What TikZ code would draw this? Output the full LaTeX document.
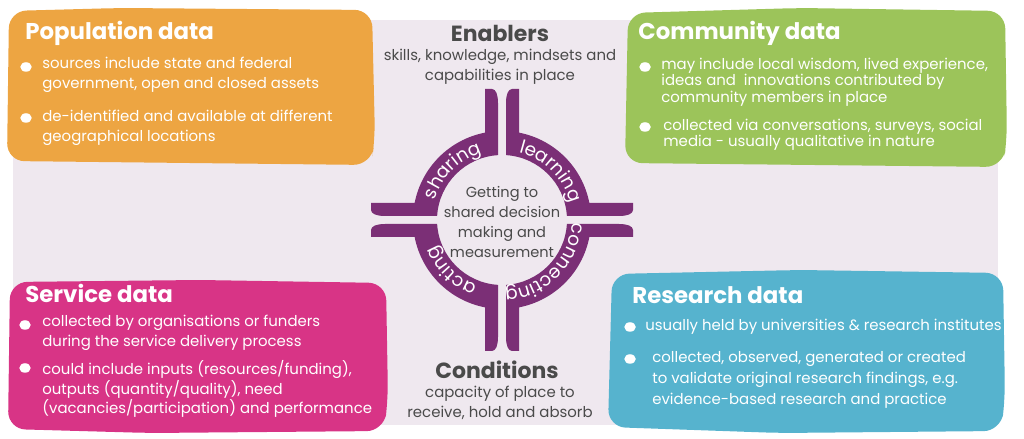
\documentclass[tikz,border=0pt]{standalone}
\usepackage{fontspec}
\setmainfont{Poppins}
\usetikzlibrary{decorations.text, shapes.geometric}

\definecolor{lavender}{HTML}{EFE8EF}
\definecolor{popfill}{HTML}{EDA542}
\definecolor{comfill}{HTML}{9CC45A}
\definecolor{serfill}{HTML}{D83486}
\definecolor{resfill}{HTML}{56B3CE}
\definecolor{ringcol}{HTML}{7B2F76}
\definecolor{darktext}{HTML}{4A4A4A}

\newcommand{\headfont}{\fontsize{13}{15}\selectfont\bfseries}
\newcommand{\bodyfont}{\fontsize{8.5}{11.3}\selectfont}
\newcommand{\ringfont}{\fontsize{10.5}{11}\selectfont\color{white}}

\tikzset{
	head/.style={anchor=west, inner sep=0, text=white, font=\headfont},
	body/.style={anchor=west, inner sep=0, text=white, align=left, font=\bodyfont},
	dot/.style={ellipse, fill=white, inner sep=0, minimum width=0.23cm, minimum height=0.19cm},
	ringlabel/.style={decorate, decoration={text along path, text align=center, text={|\ringfont|#1}}}
}

\begin{document}
\begin{tikzpicture}[x=0.02cm, y=0.02cm]
	\useasboundingbox (0,0) rectangle (1024,439);
	\fill[lavender] (13,14) rectangle (998,419);

	% data boxes
	\fill[popfill, rounded corners=0.35cm] (7,278) -- (9,428) -- (120,431) -- (372,429) -- (375,300) -- (371,274) -- cycle;
	\fill[comfill, rounded corners=0.35cm] (625,276) -- (628,426) -- (800,431) -- (1005,428) -- (1007,300) -- (1003,272) -- cycle;
	\fill[serfill, rounded corners=0.35cm] (8,10) -- (10,157) -- (200,159) -- (386,156) -- (388,40) -- (384,8) -- (150,6) -- cycle;
	\fill[resfill, rounded corners=0.35cm] (608,12) -- (612,165) -- (800,169) -- (1003,166) -- (1005,40) -- (1001,8) -- (780,6) -- cycle;

	% ring
	\begin{scope}[shift={(502,219)}]
		\foreach \r in {0,90,180,270}
		\fill[ringcol, rotate=\r] (-4,64.88) -- (-4,117) .. controls (-4,125) and (-6,131) .. (-10,131) -- (-17,131) -- (-17,87.36)
			arc[start angle=101.01, end angle=168.99, radius=89] -- (-131,17) -- (-131,10) .. controls (-131,6) and (-125,4) .. (-117,4) -- (-64.88,4)
			arc[start angle=176.47, end angle=93.53, radius=65] -- cycle;
		\path[ringlabel=sharing] (172:70) arc[start angle=172, end angle=98, radius=70];
		\path[ringlabel=learning] (82:70) arc[start angle=82, end angle=8, radius=70];
		\path[ringlabel=connecting] (-6:70) arc[start angle=-6, end angle=-84, radius=70];
		\path[ringlabel=acting] (-98:70) arc[start angle=-98, end angle=-172, radius=70];
	\end{scope}
	\node[align=center, inner sep=0, text=darktext, font=\fontsize{8.3}{11.3}\selectfont] (centre) at (502,217) {Getting to\\shared decision\\making and\\measurement};

	\node[inner sep=0, text=darktext, font=\fontsize{12.5}{14}\selectfont\bfseries] (enablers) at (500,406) {Enablers};
	\node[inner sep=0, align=center, text=darktext, font=\bodyfont] (enablerstext) at (500,372) {skills, knowledge, mindsets and\\capabilities in place};
	\node[inner sep=0, text=darktext, font=\fontsize{12.5}{14}\selectfont\bfseries] (conditions) at (497,69) {Conditions};
	\node[inner sep=0, align=center, text=darktext, font=\bodyfont] (conditionstext) at (500,36) {capacity of place to\\receive, hold and absorb};

	% population
	\node[head] (pophead) at (25,406) {Population data};
	\node[dot] (popdot1) at (26,372) {};
	\node[body] (poptext1) at (42,364) {sources include state and federal\\government, open and closed assets};
	\node[dot] (popdot2) at (26,321) {};
	\node[body] (poptext2) at (42,311) {de-identified and available at different\\geographical locations};

	% community
	\node[head] (comhead) at (638,406) {Community data};
	\node[dot] (comdot1) at (645,372) {};
	\node[body, font=\fontsize{8.5}{9.4}\selectfont] (comtext1) at (661,357) {may include local wisdom, lived experience,\\ideas and\ \ innovations contributed by\\community members in place};
	\node[dot] (comdot2) at (645,312) {};
	\node[body, font=\fontsize{8.5}{9.4}\selectfont] (comtext2) at (663,304) {collected via conversations, surveys, social\\media - usually qualitative in nature};

	% service
	\node[head] (serhead) at (25,146) {Service data};
	\node[dot] (serdot1) at (25,114) {};
	\node[body] (sertext1) at (42,106) {collected by organisations or funders\\during the service delivery process};
	\node[dot] (serdot2) at (25,71) {};
	\node[body] (sertext2) at (42,50) {could include inputs (resources/funding),\\outputs (quantity/quality), need\\(vacancies/participation) and performance};

	% research
	\node[head] (reshead) at (632,144) {Research data};
	\node[dot] (resdot1) at (630,112) {};
	\node[body] (restext1) at (645,112) {usually held by universities \& research institutes};
	\node[dot] (resdot2) at (630,80) {};
	\node[body, font=\fontsize{8.5}{11.9}\selectfont] (restext2) at (652,59) {collected, observed, generated or created\\to validate original research findings, e.g.\\evidence-based research and practice};
\end{tikzpicture}
\end{document}
